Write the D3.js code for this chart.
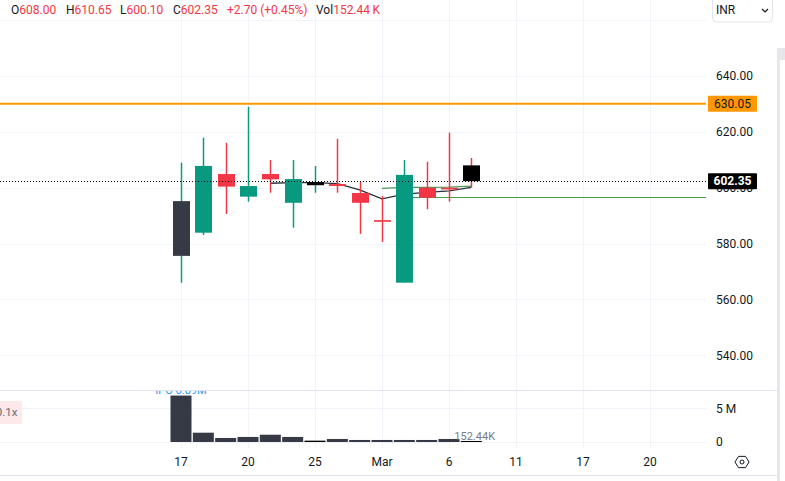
<!DOCTYPE html>
<html>
<head>
<meta charset="utf-8">
<script src="https://cdn.jsdelivr.net/npm/d3@7"></script>
<style>
  body { margin: 0; background: #fff; }
  svg { display: block; font-family: Roboto, "Noto Sans", sans-serif; }
</style>
</head>
<body>
<div id="chart"></div>
<script>
// daily candles, Feb 17 -> Mar 7
var dates  = ["17", "18", "19", "20", "21", "24", "25", "27", "28", "Mar", "4", "5", "6", "7"];
var open   = [575.6, 583.9, 604.9, 596.8, 604.9, 594.6, 600.9, 601.3, 598.1, 588.4, 566.0, 600.0, 600.0, 608.00];
var high   = [609.0, 617.9, 616.1, 629.0, 609.9, 609.9, 607.8, 617.5, 602.2, 597.0, 609.9, 609.3, 619.7, 610.65];
var low    = [566.0, 583.1, 590.6, 595.0, 598.2, 585.7, 598.2, 598.2, 583.5, 580.6, 566.0, 592.3, 595.0, 600.10];
var close  = [595.2, 607.8, 600.4, 600.6, 603.0, 603.1, 602.0, 600.6, 594.6, 587.8, 604.6, 596.4, 599.4, 602.35];
var volume = [6.89, 1.38, 0.6, 0.75, 1.08, 0.75, 0.2, 0.45, 0.3, 0.3, 0.3, 0.3, 0.45, 0.15244]; // millions

// moving averages (null = not drawn)
var maDark  = [null, null, null, null, 601.6, 601.8, 601.8, 601.5, 599.2, 596.0, 597.7, 598.3, 598.9, 600.1];
var maGreen = [null, null, null, null, null, null, null, null, null, 599.8, 600.1, 600.1, 600.2, 600.6];

var tickIdx    = [0, 3, 6, 9, 12, 15, 18, 21];
var tickLabels = ["17", "20", "25", "Mar", "6", "11", "17", "20"];
var priceTicks = [540, 560, 580, 600, 620, 640, 660];
var volTicks   = [0, 5];

var lastPrice = 602.35;
var alertPrice = 630.05;
var supportPrice = 596.6;

// body colour overrides (bar index -> colour)
var bodyOverride = {0: "#363a45", 6: "#000000", 13: "#000000"};

var W = 785, H = 481;
var up = "#089981", down = "#f23645", grid = "#f0f3fa", txt = "#131722";
var plotRight = 706;

var svg = d3.select("#chart").append("svg").attr("width", W).attr("height", H);
svg.append("rect").attr("width", W).attr("height", H).attr("fill", "#fff");

var x = d3.scaleLinear().domain([0, 21]).range([181, 650]);
var y = d3.scaleLinear().domain([540, 640]).range([355.3, 76]);
var yv = d3.scaleLinear().domain([0, 5]).range([442, 408.3]);

// grid
svg.selectAll(".vg").data(tickIdx).enter().append("line")
  .attr("x1", function(d){ return Math.round(x(d)) + 0.5; })
  .attr("x2", function(d){ return Math.round(x(d)) + 0.5; })
  .attr("y1", 0).attr("y2", 448)
  .attr("stroke", grid);

svg.selectAll(".hg").data(priceTicks).enter().append("line")
  .attr("x1", 0).attr("x2", plotRight)
  .attr("y1", function(d){ return Math.round(y(d)) + 0.5; })
  .attr("y2", function(d){ return Math.round(y(d)) + 0.5; })
  .attr("stroke", grid);

svg.selectAll(".vhg").data(volTicks).enter().append("line")
  .attr("x1", 0).attr("x2", plotRight)
  .attr("y1", function(d){ return Math.round(yv(d)) + 0.5; })
  .attr("y2", function(d){ return Math.round(yv(d)) + 0.5; })
  .attr("stroke", grid);

// pane separator + bottom line
svg.append("line").attr("x1", 0).attr("x2", 777).attr("y1", 390.5).attr("y2", 390.5).attr("stroke", "#e0e3eb");
svg.append("line").attr("x1", 0).attr("x2", 777).attr("y1", 475.5).attr("y2", 475.5).attr("stroke", "#e0e3eb");

// right edge strip
svg.append("rect").attr("x", 777).attr("y", 48).attr("width", 3).attr("height", 433).attr("fill", "#e6e7eb");
svg.append("rect").attr("x", 780).attr("y", 48).attr("width", 5).attr("height", 12).attr("fill", "#e6e7eb");

// alert line
svg.append("line").attr("x1", 0).attr("x2", plotRight)
  .attr("y1", y(alertPrice)).attr("y2", y(alertPrice))
  .attr("stroke", "#ff9800").attr("stroke-width", 2);

// support line
svg.append("line").attr("x1", x(10)).attr("x2", plotRight)
  .attr("y1", Math.round(y(supportPrice)) + 0.5).attr("y2", Math.round(y(supportPrice)) + 0.5)
  .attr("stroke", "#43a047");

// moving averages
var maLine = d3.line()
  .defined(function(d){ return d != null; })
  .x(function(d, i){ return x(i); })
  .y(function(d){ return y(d); });

svg.append("path").datum(maGreen).attr("d", maLine)
  .attr("fill", "none").attr("stroke", "#4c9a55").attr("stroke-width", 1.3);
svg.append("path").datum(maDark).attr("d", maLine)
  .attr("fill", "none").attr("stroke", "#2a2e39").attr("stroke-width", 1.3);

// candles
var bodyW = 17;
var candles = svg.selectAll(".candle").data(dates).enter().append("g");

candles.append("line")
  .attr("x1", function(d, i){ return Math.round(x(i)) + 0.5; })
  .attr("x2", function(d, i){ return Math.round(x(i)) + 0.5; })
  .attr("y1", function(d, i){ return y(high[i]); })
  .attr("y2", function(d, i){ return y(low[i]); })
  .attr("stroke", function(d, i){ return close[i] >= open[i] ? up : down; })
  .attr("stroke-width", 1.5);

candles.append("rect")
  .attr("x", function(d, i){ return Math.round(x(i)) + 0.5 - bodyW / 2; })
  .attr("width", bodyW)
  .attr("y", function(d, i){ return y(Math.max(open[i], close[i])); })
  .attr("height", function(d, i){ return Math.max(1.5, Math.abs(y(open[i]) - y(close[i]))); })
  .attr("fill", function(d, i){
    if (bodyOverride[i]) return bodyOverride[i];
    return close[i] >= open[i] ? up : down;
  });

// last price dotted line
svg.append("line").attr("x1", 0).attr("x2", plotRight)
  .attr("y1", Math.round(y(lastPrice)) + 0.5).attr("y2", Math.round(y(lastPrice)) + 0.5)
  .attr("stroke", "#000").attr("stroke-dasharray", "1,2");

// volume bars
svg.selectAll(".vol").data(volume).enter().append("rect")
  .attr("x", function(d, i){ return x(i) - 10.5; })
  .attr("width", 21)
  .attr("y", function(d){ return yv(d); })
  .attr("height", function(d){ return yv(0) - yv(d); })
  .attr("fill", function(d, i){ return (i == 6 || i == 13) ? "#000" : "#363a45"; });

// volume labels
svg.append("clipPath").attr("id", "volclip").append("rect")
  .attr("x", 0).attr("y", 391).attr("width", plotRight).attr("height", 60);
svg.append("text").attr("clip-path", "url(#volclip)")
  .attr("x", x(0)).attr("y", 394).attr("text-anchor", "middle")
  .attr("font-size", 11).attr("fill", "#2196f3").text("IPO 6.89M");
svg.append("text")
  .attr("x", x(13) - 17).attr("y", 440)
  .attr("font-size", 11).attr("fill", "#787b86").text("152.44K");

// left pink badge
svg.append("rect").attr("x", 0).attr("y", 401).attr("width", 22).attr("height", 23).attr("fill", "#fde8ea");
svg.append("text").attr("x", 17.5).attr("y", 416).attr("text-anchor", "end")
  .attr("font-size", 11.5).attr("fill", "#6a6d78").text("0.1x");

// price axis labels
svg.selectAll(".pl").data(priceTicks.filter(function(d){ return d < 660; })).enter().append("text")
  .attr("x", 716).attr("y", function(d){ return y(d); })
  .attr("dy", "0.35em").attr("font-size", 12).attr("fill", txt)
  .text(function(d){ return d3.format(".2f")(d); });

svg.selectAll(".vl").data(volTicks).enter().append("text")
  .attr("x", 716).attr("y", function(d){ return yv(d); })
  .attr("dy", "0.35em").attr("font-size", 12).attr("fill", txt)
  .text(function(d){ return d == 0 ? "0" : d + " M"; });

// price badges
function badge(v, bg, fg, bold) {
  svg.append("rect").attr("x", 708).attr("y", y(v) - 8).attr("width", 49).attr("height", 16)
    .attr("fill", bg).attr("rx", 1);
  svg.append("text").attr("x", 732.5).attr("y", y(v)).attr("dy", "0.35em")
    .attr("text-anchor", "middle").attr("font-size", 12).attr("fill", fg)
    .attr("font-weight", bold ? "bold" : "normal")
    .text(d3.format(".2f")(v));
}
badge(alertPrice, "#ff9800", "#131722", false);
badge(lastPrice, "#000", "#fff", true);

// time axis
svg.selectAll(".tl").data(tickIdx).enter().append("text")
  .attr("x", function(d){ return x(d); }).attr("y", 462)
  .attr("dy", "0.35em").attr("text-anchor", "middle")
  .attr("font-size", 12).attr("fill", txt)
  .text(function(d, i){ return tickLabels[i]; });

// settings icon
var hex = d3.range(6).map(function(k){
  var a = Math.PI / 3 * k;
  return [742 + 7 * Math.cos(a), 462 + 6.5 * Math.sin(a)];
});
svg.append("polygon").attr("points", hex.map(function(p){ return p.join(","); }).join(" "))
  .attr("fill", "none").attr("stroke", txt).attr("stroke-width", 1);
svg.append("circle").attr("cx", 742).attr("cy", 462).attr("r", 2).attr("fill", "none").attr("stroke", txt);

// currency dropdown
svg.append("rect").attr("x", 712.5).attr("y", -4).attr("width", 60).attr("height", 26).attr("rx", 4)
  .attr("fill", "#fff").attr("stroke", "#e0e3eb");
svg.append("text").attr("x", 716).attr("y", 10).attr("dy", "0.35em")
  .attr("font-size", 12).attr("fill", txt).text("INR");
svg.append("path").attr("d", "M762,9 l3,3 l3,-3").attr("fill", "none").attr("stroke", txt).attr("stroke-width", 1.2);

// header legend
var legend = [
  {k: "O", v: "608.00", x: 11},
  {k: "H", v: "610.65", x: 66},
  {k: "L", v: "600.10", x: 120},
  {k: "C", v: "602.35", x: 173},
  {k: "",  v: "+2.70 (+0.45%)", x: 227},
  {k: "Vol", v: "152.44\u2009K", x: 316}
];
legend.forEach(function(g){
  var t = svg.append("text").attr("x", g.x).attr("y", 10).attr("dy", "0.35em").attr("font-size", 12);
  t.append("tspan").attr("fill", txt).text(g.k);
  t.append("tspan").attr("fill", down).text(g.v);
});
</script>
</body>
</html>
